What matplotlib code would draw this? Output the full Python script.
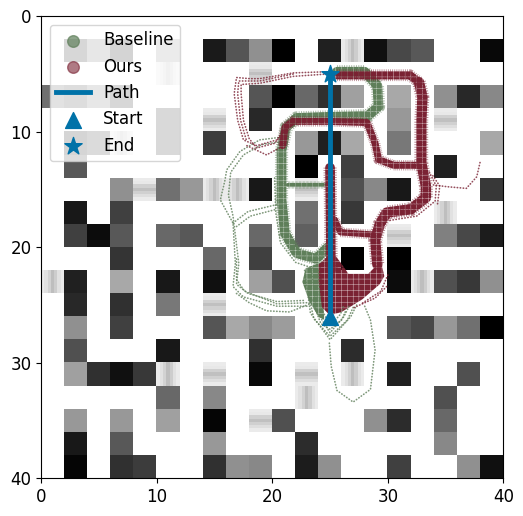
import numpy as np
import matplotlib
matplotlib.use('Agg')
import matplotlib.pyplot as plt
from matplotlib.path import Path

# maze cells, 20x20, gray level 0-255. V / H are the striped cells
V = -1
H = -2
W = 255
cells = [
    [W, W, W, W, W, W, W, W, W, W, W, W, W, W, W, W, W, W, W, W],
    [W, 60, 140, 45, W, 160, W, 0x1a, 0x55, 0x90, 0x00, W, 0x20, V, 0x10, 0x48, 0x58, W, W, 0x08],
    [W, W, W, W, W, V, W, W, W, H, W, W, W, W, W, W, W, W, W, W],
    [0x70, 90, 140, 60, W, W, W, W, W, 0x55, 0x00, 0x68, 0x30, 0xa0, W, 0xa8, W, 0x90, 0x28, 0x88],
    [W, W, W, W, W, 70, W, H, W, 0x28, W, W, W, W, W, 0x98, W, H, W, W],
    [W, 50, 80, V, W, 70, W, 0x3c, W, W, W, 0x98, 0x20, 0xa8, W, 0x78, W, W, W, 0xa8],
    [W, 0x58, W, W, W, W, W, W, W, W, W, 0x00, W, 0x40, W, W, W, 0x20, W, W],
    [W, W, W, 0x90, H, 0x70, 0x98, V, V, 0x18, W, H, W, 0x50, 0x88, 0x18, W, W, W, 0x38],
    [W, 0x18, W, 0x40, W, W, W, W, W, W, W, 0x70, W, 0x38, W, W, W, V, W, W],
    [W, 0x40, 0x0c, 0x58, W, 0x68, 0x58, W, W, 0x68, W, 0x60, W, W, W, H, W, 0x80, 0x48, 0x1c],
    [W, W, W, 0x35, W, W, W, 0x68, W, 0x40, W, W, W, 0x00, W, 0x00, W, W, W, W],
    [V, 0x20, W, 0xa8, W, 0x18, W, 0x10, W, 0xa0, 0x50, W, W, W, W, 0x0c, V, 0x50, 0x38, 0x90],
    [W, 0x28, W, 0x30, W, 0x78, W, H, W, W, W, W, W, W, W, W, W, W, W, W],
    [W, 0x90, W, 0x40, W, W, W, 0x55, 0xa8, 0x88, 0x9c, W, W, W, W, 0x58, 0x48, 0x98, 0x70, 0x00],
    [W, 0x50, W, W, W, 0x18, W, W, W, 0x30, W, W, W, 0x2c, W, W, W, W, W, W],
    [W, 0xa0, 0x30, 0x10, 0x38, V, W, H, W, 0x08, W, H, W, V, W, 0x20, W, W, 0x50, W],
    [W, W, W, W, W, 0x68, W, 0x88, W, W, W, V, W, W, W, W, W, 0x50, W, W],
    [W, 0x98, W, 0x98, W, 0xa0, W, 0x05, W, H, 0x50, W, W, W, 0x90, 0x2c, W, 0x68, W, W],
    [W, 0x18, W, 0x58, W, W, W, 0x98, W, W, W, 0x2c, W, W, W, W, W, 0x88, W, W],
    [W, 0x05, W, 0x30, 0x3c, W, W, 0x30, 0x90, 0x88, W, 0x1c, 0x90, W, W, 0x40, W, W, 0x90, 0x10],
]
stripe_v = [235, 225, 210, 190, 205, 225, 235]
stripe_h = [235, 232, 208, 192, 208, 222, 235]

path_x = [25, 25]
path_y = [26, 5]

ours_top = [(25.6, 5.1), (28, 5.1), (31.9, 5.1), (32.7, 5.7)]
ours_outer = [(32.7, 5.7), (33, 7), (32.9, 9), (32.9, 12.7), (33.3, 14.7), (33.3, 15.7), (32, 16.7), (29.9, 17), (29.3, 18), (28.9, 19.4), (29.1, 21.5)]
ours_middle = [(20.9, 11.2), (21.1, 9.6), (21.8, 9.1), (25, 9.1), (28.2, 9.2), (28.9, 11), (29.2, 12.4), (30.5, 12.9), (32.5, 12.9)]
ours_center = [(25, 13.1), (25.1, 22)]
ours_link = [(25.4, 17.6), (25.9, 18.7), (28.7, 18.9)]
ours_blob = [(24, 21.5), (25.2, 20.4), (25.9, 21.3), (26.6, 22.3), (28.3, 22.3), (29.4, 21.2), (29.7, 22.5), (29.3, 23.2), (27.8, 24.5), (27, 25), (26, 25.6), (25, 25.9), (24.3, 25.2), (24, 23)]
# stippled parts of the tracks
ours_left_a = [(24.7, 4.8), (21.8, 4.9), (18.9, 5.4), (18.07, 5.4), (16.9, 5.3), (16.7, 6.7), (17, 9), (17.5, 10.7), (18.65, 11.2), (20.4, 10.7), (21, 9.8)]
ours_left_b = [(24.7, 5.0), (21.8, 5.2), (18.9, 5.8), (17.3, 5.9), (17.3, 6.7), (17.5, 9), (18, 10.6), (18.65, 11.4), (20.2, 11), (21, 10)]
ours_left_d = [(21.8, 5), (18.9, 5.6), (17.1, 5.6), (17, 6.7), (17.25, 9), (17.75, 10.7)]
ours_left_c = [(17.8, 11.2), (19.5, 12), (20.8, 11.3)]
ours_right = [(33.95, 14.6), (35.1, 14.75), (36.8, 14.9), (37.7, 13.9), (38, 12.6)]
ours_fuzz_a = [(33.6, 13.5), (34.2, 14.7), (34.1, 16), (32.5, 17.3), (30, 17.7)]
ours_fuzz_b = [(33.9, 13.8), (34.5, 14.7), (34.3, 16.3)]
ours_tail = [(29.9, 23.4), (28.9, 24.4), (26.9, 25.3)]
ours_tail_b = [(30, 22.4), (29.4, 23.8), (27.7, 24.9)]

base_top = [(25.6, 4.8), (28, 4.8), (29.1, 6), (29.2, 7.8), (28.3, 8.6), (25, 8.7), (22.1, 8.8), (21.2, 9.6), (20.8, 11.6), (20.8, 15.9), (21.1, 18.8), (22.1, 20.5), (23.8, 21), (24.8, 20)]
base_join = [(21.4, 14.6), (24.6, 14.6)]
base_blob = [(22.9, 21.8), (24.2, 21.3), (24.5, 26.3), (24, 26), (23.2, 24.7), (22.6, 23)]
base_outer_a = [(20.5, 10.5), (18.9, 10.7), (17.2, 11.7), (16.05, 13.3), (15.9, 14.2), (15.5, 15.9), (16.6, 17.9), (16.8, 21.4), (16.6, 23.4), (17.5, 24.3), (20.4, 25.1), (23, 25.1), (24.1, 24)]
base_outer_b = [(20.5, 10.9), (19.1, 11.1), (17.5, 12), (16.4, 13.5), (16.2, 15.5), (16.6, 17.3), (17.1, 21.4), (16.9, 23.2), (17.9, 24), (20.4, 24.7), (22.8, 24.6)]
base_outer_c = [(16.9, 21), (16.9, 22.8), (17.6, 23.8), (20.4, 24.9), (23, 24.8)]
base_branch_a = [(16.6, 17.9), (17.9, 16.9), (20.4, 16.3)]
base_branch_b = [(16.9, 18.2), (18.1, 17.3), (20.4, 16.7)]
base_low_a = [(16.9, 24), (18, 24.8), (19.5, 25.5), (21.5, 25.6), (23, 25)]
base_fan_a = [(22.8, 22), (23.3, 25.7), (25, 28), (26.8, 26), (27.3, 25)]
base_fan_b = [(23.4, 22), (23.8, 25.5), (25, 27.4), (26.2, 26), (26.7, 25)]
base_fan_c = [(24, 22), (24.1, 25), (25, 26.8), (25.9, 25.8), (26.2, 25)]
base_fan_d = [(23.1, 24), (23.6, 26.2), (25, 27.7), (26.5, 26.3), (27, 25.2)]
base_fan_e = [(23.6, 25), (24.2, 26.6), (25, 27.1), (26, 26.3), (26.4, 25.4)]
base_loop = [(24.94, 28.3), (25.1, 30.3), (25.6, 32.4), (27, 33.4), (28.5, 32.3), (28.9, 28.9), (28.5, 26.3), (28, 25.1)]
base_inner = [(20.2, 14), (20.3, 17), (20.7, 19.6), (22, 21.3), (23.5, 21.8)]

ours_color = '#7a2233'
base_color = '#5f7f5a'
blue = '#0072a8'

# blow the cells up so the striped ones can show their bands
n = len(stripe_v)
img = np.zeros((20 * n, 20 * n))
for r, row in enumerate(cells):
    for c, v in enumerate(row):
        if v == V:
            img[r * n:(r + 1) * n, c * n:(c + 1) * n] = np.array(stripe_v)[None, :]
        elif v == H:
            img[r * n:(r + 1) * n, c * n:(c + 1) * n] = np.array(stripe_h)[:, None]
        else:
            img[r * n:(r + 1) * n, c * n:(c + 1) * n] = v

fig = plt.figure(figsize=(5.23, 5.16), dpi=100)
ax = fig.add_axes([0.079, 0.0731, 0.8833, 0.8953])
ax.imshow(img, cmap='gray', vmin=0, vmax=255, extent=(0, 40, 40, 0))

# the dense marks leave a fine white lattice, every half unit
squares = []
for gx in np.arange(0, 40, 0.5):
    for gy in np.arange(0.25, 40, 0.5):
        squares.append(Path([(gx + 0.015, gy + 0.015), (gx + 0.485, gy + 0.015), (gx + 0.485, gy + 0.485), (gx + 0.015, gy + 0.485), (gx + 0.015, gy + 0.015)], closed=True))
lattice = Path.make_compound_path(*squares)


def thick(pts, color, lw):
    x, y = zip(*pts)
    # comb of short dashes so that the edge of the band looks stippled
    ax.plot(x, y, color=color, lw=lw + 2.5, ls=(0, (0.07, 0.11)), alpha=0.55)
    core, = ax.plot(x, y, color=color, lw=lw, solid_capstyle='round', solid_joinstyle='round')
    core.set_clip_path(lattice, ax.transData)


def dots(pts, color, lw=1.2):
    x, y = zip(*pts)
    ax.plot(x, y, color=color, lw=lw, ls=(0, (0.2, 1.6)), dash_capstyle='round', alpha=0.8)


def blob(pts, color):
    x, y = zip(*pts)
    for patch in ax.fill(x, y, color=color, lw=0):
        patch.set_clip_path(lattice, ax.transData)


for t in [base_outer_a, base_outer_b, base_outer_c, base_branch_a, base_branch_b, base_low_a, base_fan_a, base_fan_b, base_fan_c, base_fan_d, base_fan_e, base_loop, base_inner]:
    dots(t, base_color)
thick(base_top, base_color, 7)
thick(base_join, base_color, 3)
blob(base_blob, base_color)

for t in [ours_left_a, ours_left_b, ours_left_c, ours_left_d, ours_right, ours_fuzz_a, ours_fuzz_b, ours_tail, ours_tail_b]:
    dots(t, ours_color)
thick(ours_top, ours_color, 6)
thick(ours_outer, ours_color, 7.5)
thick(ours_middle, ours_color, 5)
thick(ours_center, ours_color, 7)
thick(ours_link, ours_color, 4.5)
blob(ours_blob, ours_color)

path_line, = ax.plot(path_x, path_y, color=blue, lw=3.5, label='Path')
start = ax.scatter(path_x[0], path_y[0], marker='^', s=130, color=blue, zorder=5, label='Start')
end = ax.scatter(path_x[1], path_y[1], marker='*', s=170, color=blue, zorder=5, label='End')
h1 = ax.scatter([], [], s=70, color=base_color, alpha=0.7, label='Baseline')
h2 = ax.scatter([], [], s=70, color=ours_color, alpha=0.6, label='Ours')

ax.set_xlim(0, 40)
ax.set_ylim(40, 0)
ax.set_xticks([0, 10, 20, 30, 40])
ax.set_yticks([0, 10, 20, 30, 40])
ax.tick_params(labelsize=12)
ax.legend(handles=[h1, h2, path_line, start, end], loc='upper left', fontsize=12)
fig.savefig('out.png', dpi=100)
